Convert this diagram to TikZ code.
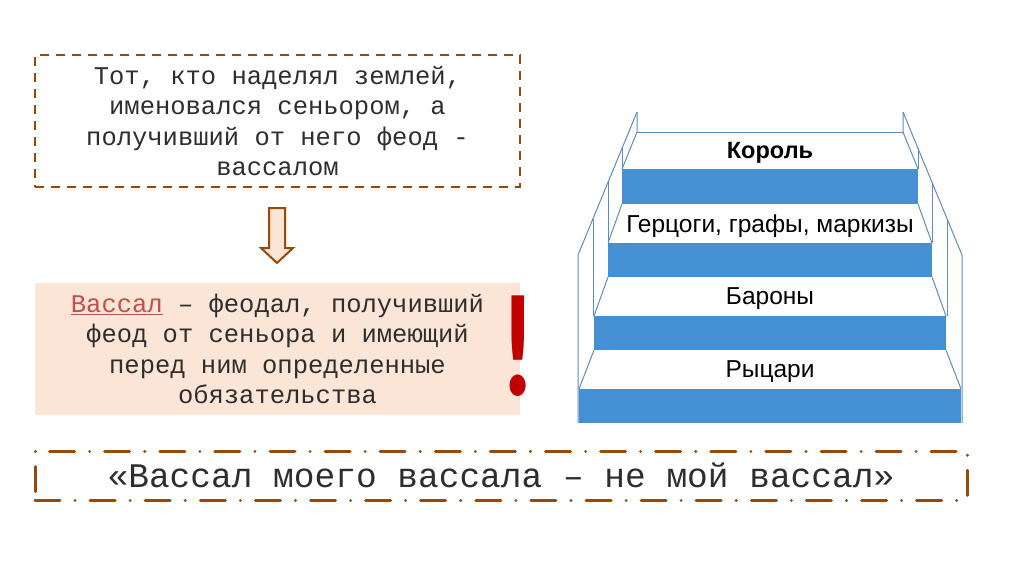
\documentclass[tikz,border=0pt]{standalone}
\usepackage{fontspec}
\setmainfont{Liberation Serif}
\setmonofont{Liberation Mono}
\newfontfamily\sansf{Liberation Sans}
\newfontfamily\calib{Carlito}
\definecolor{brn}{HTML}{984807}
\definecolor{peach}{HTML}{FBE5D6}
\definecolor{band}{HTML}{4590D3}
\definecolor{stairline}{HTML}{5E8CC2}
\definecolor{vred}{HTML}{C0504D}
\definecolor{exred}{HTML}{C00000}
\definecolor{txt}{HTML}{2E2E2E}
\begin{document}
\begin{tikzpicture}[x=1pt,y=-1pt,
  monotext/.style={font=\ttfamily\fontsize{25.5}{30.5}\selectfont, text=txt, align=center},
  dashbox/.style={draw=brn, line width=2.5pt, dash pattern=on 9pt off 7pt, minimum width=485pt, minimum height=132pt, inner sep=0pt},
  fillbox/.style={fill=peach, minimum width=485pt, minimum height=132pt, inner sep=0pt},
  dotbox/.style={draw=brn, line width=3pt, line cap=round, dash pattern=on 25pt off 15pt on 0.1pt off 15pt, minimum width=932pt, minimum height=49pt, inner sep=0pt},
  blockarrow/.style={draw=brn, line width=2pt, fill=peach, line join=miter},
  stairband/.style={fill=band},
  stairedge/.style={draw=stairline, line width=1pt},
  steplabel/.style={font=\sansf\fontsize{24.5}{29}\selectfont, text=black, anchor=base, inner sep=0pt}
]
\useasboundingbox (0,0) rectangle (1024,574);
\fill[white] (0,0) rectangle (1024,574);

% top dashed box
\node[dashbox, monotext] (lord) at (277.5,121) {Тот, кто наделял землей,\\именовался сеньором, а\\получивший от него феод -\\вассалом};

% block arrow
\coordinate (arrtop) at (277,208);
\draw[blockarrow] ([xshift=-8pt]arrtop) -- ([xshift=8pt]arrtop) -- ++(0,40) -- ++(8,0) -- (277,263) -- (261,248) -- (269,248) -- cycle;

% definition box
\node[fillbox, monotext] (vassal) at (277.5,349) {\textcolor{vred}{\underline{Вассал}} – феодал, получивший\\феод от сеньора и имеющий\\перед ним определенные\\обязательства};

% exclamation mark
\node[inner sep=0pt, text=exred, font=\calib\bfseries\fontsize{146}{150}\selectfont] (excl) at (518,346) {\scalebox{0.74}[1]{!}};

% bottom dash-dot box
\node[dotbox, font=\ttfamily\fontsize{34.5}{40}\selectfont, text=txt] (motto) at (501,475.5) {«Вассал моего вассала – не мой вассал»};

% staircase: blue risers
\fill[stairband] (622,169) rectangle (918,204);
\fill[stairband] (608,243) rectangle (932,277);
\fill[stairband] (594,316) rectangle (946,350);
\fill[stairband] (579,389) rectangle (961,423);

% staircase: outlines
\draw[stairedge] (637,132) -- (903,132);
% left side
\draw[stairedge] (637,112) -- (578,255) -- (578,423);
\draw[stairedge] (637,112) -- (637,132) -- (622,169);
\draw[stairedge] (622,148) -- (622,169);
\draw[stairedge] (608,182) -- (608,243);
\draw[stairedge] (593,219) -- (593,316);
\draw[stairedge] (622,204) -- (608,243);
\draw[stairedge] (608,277) -- (594,316);
\draw[stairedge] (594,350) -- (579,389);
% right side
\draw[stairedge] (903,112) -- (962,255) -- (962,423);
\draw[stairedge] (903,112) -- (903,132) -- (918,169);
\draw[stairedge] (918,148) -- (918,169);
\draw[stairedge] (932,182) -- (932,243);
\draw[stairedge] (947,219) -- (947,316);
\draw[stairedge] (918,204) -- (932,243);
\draw[stairedge] (932,277) -- (946,316);
\draw[stairedge] (946,350) -- (961,389);

% step labels
\node[steplabel, font=\sansf\bfseries\fontsize{23.5}{28}\selectfont] (king) at (770,158) {Король};
\node[steplabel] (dukes) at (770,232) {Герцоги, графы, маркизы};
\node[steplabel] (barons) at (770,304) {Бароны};
\node[steplabel] (knights) at (770,377) {Рыцари};
\end{tikzpicture}
\end{document}
